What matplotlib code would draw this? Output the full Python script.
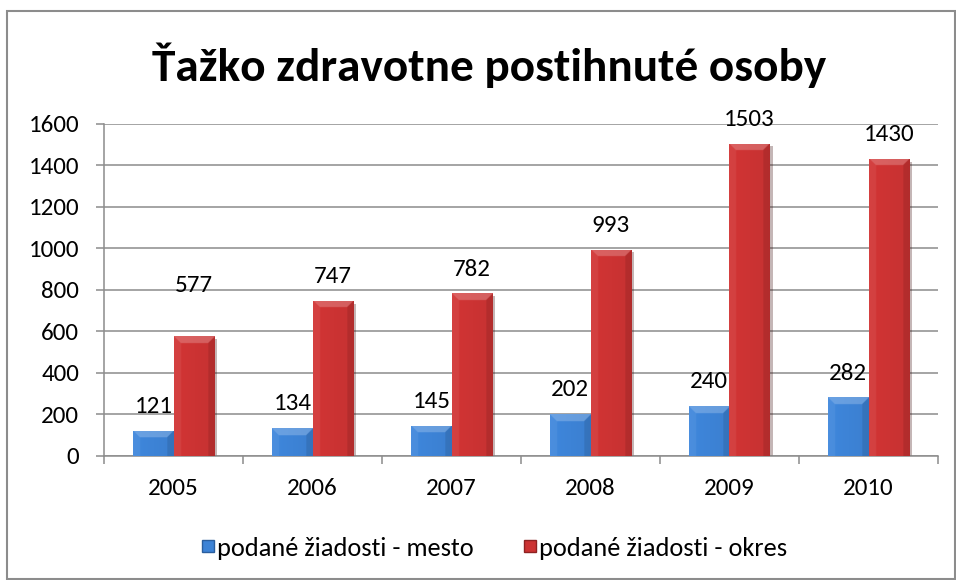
import numpy as np
import matplotlib
matplotlib.use("Agg")
import matplotlib.pyplot as plt
from matplotlib.patches import Rectangle
from matplotlib.lines import Line2D
import matplotlib.patheffects as pe
from matplotlib.colors import to_rgb

plt.rcParams['font.family'] = ['Carlito', 'Lato', 'DejaVu Sans']

years = ['2005', '2006', '2007', '2008', '2009', '2010']
mesto = [121, 134, 145, 202, 240, 282]
okres = [577, 747, 782, 993, 1503, 1430]
series_names = ['podané žiadosti - mesto', 'podané žiadosti - okres']
title = 'Ťažko zdravotne postihnuté osoby'

blue = '#3D83D6'
red = '#CC3333'
grid_c = '#8C8C8C'

W, H = 956, 580
fig = plt.figure(figsize=(W / 100, H / 100), dpi=100)
fig.patch.set_facecolor('white')
fig.add_artist(Rectangle((7 / W, 1 / H), (955 - 7) / W, (H - 11 - 1) / H,
                         transform=fig.transFigure, fill=False,
                         edgecolor='#8C8C8C', lw=1.5))

ax = fig.add_axes([104 / W, (H - 456) / H, (938 - 104) / W, (456 - 123.5) / H])
ax.set_xlim(-0.5, len(years) - 0.5)
ax.set_ylim(0, 1600)
ax.set_yticks(np.arange(0, 1601, 200))
ax.yaxis.grid(True, color=grid_c, lw=1.1)
ax.set_axisbelow(True)
for s in ['top', 'right']:
    ax.spines[s].set_visible(False)
for s in ['left', 'bottom']:
    ax.spines[s].set_color(grid_c)
    ax.spines[s].set_linewidth(1.1)

x = np.arange(len(years))
ax.set_xticks(x)
ax.set_xticklabels(years)
ax.set_xticks(np.arange(-0.5, len(years)), minor=True)
ax.tick_params(axis='x', which='major', length=0, pad=16, labelsize=18)
ax.tick_params(axis='x', which='minor', length=6, color=grid_c, width=1.1)
ax.tick_params(axis='y', length=6, color=grid_c, width=1.1, pad=12, labelsize=18)

bw = 0.29
px_per_unit = (456 - 123.5) / 1600.0
axis_w_px = 938 - 104


def shaded_bar(bar, color):
    c = np.array(to_rgb(color))
    x0 = bar.get_x()
    w = bar.get_width()
    h = bar.get_height()
    wpx = w / len(years) * axis_w_px
    nx = int(round(wpx)) * 2
    ny = max(int(h * px_per_unit), 2) * 2
    xs = (np.arange(nx) + 0.5) / 2.0
    ys = (np.arange(ny) + 0.5) / 2.0
    X, Y = np.meshgrid(xs, ys)
    base = np.ones((ny, nx, 3)) * c
    shade = 1.03 - 0.06 * (X / wpx)
    img = base * shade[..., None]
    bev = 7.0
    d_left = X
    d_right = wpx - X
    d_top = Y
    dmin = np.minimum(np.minimum(d_left, d_right), d_top)
    in_bev = dmin < bev
    top = in_bev & (d_top <= d_left) & (d_top <= d_right)
    left = in_bev & (d_left < d_top) & (d_left <= d_right)
    right = in_bev & (d_right < d_top) & (d_right < d_left)
    img[top] = img[top] + (1 - img[top]) * 0.22
    img[left] = img[left] + (1 - img[left]) * 0.06
    img[right] = img[right] * 0.90
    img = np.clip(img, 0, 1)
    im = ax.imshow(img, extent=(x0, x0 + w, 0, h), aspect='auto',
                   origin='upper', zorder=3, interpolation='bilinear')
    im.set_clip_path(bar)


shadow = [pe.SimplePatchShadow(offset=(2, -2), alpha=0.3), pe.Normal()]
bars1 = ax.bar(x - bw / 2, mesto, bw, color=blue, zorder=2, path_effects=shadow)
bars2 = ax.bar(x + bw / 2, okres, bw, color=red, zorder=2, path_effects=shadow)
for b in bars1:
    shaded_bar(b, blue)
for b in bars2:
    shaded_bar(b, red)

extra = {('okres', 0): 19}
for i, v in enumerate(mesto):
    ax.annotate(str(v), (x[i] - bw / 2, v), xytext=(0, 10 + extra.get(('mesto', i), 0)),
                textcoords='offset points', ha='center', va='bottom', fontsize=18, zorder=5)
for i, v in enumerate(okres):
    ax.annotate(str(v), (x[i] + bw / 2, v), xytext=(0, 10 + extra.get(('okres', i), 0)),
                textcoords='offset points', ha='center', va='bottom', fontsize=18, zorder=5)

fig.text(489 / W, (H - 65) / H, title, ha='center', va='center',
         fontsize=34, fontweight='bold')

handles = [Line2D([], [], marker='s', ls='none', markersize=8, markerfacecolor=blue,
                  markeredgecolor='#2A5E9E'),
           Line2D([], [], marker='s', ls='none', markersize=8, markerfacecolor=red,
                  markeredgecolor='#8E2222')]
fig.legend(handles, series_names, loc='center', bbox_to_anchor=(493 / W, (H - 548) / H),
           ncol=2, frameon=False, fontsize=19, handletextpad=0.0, columnspacing=1.8,
           handlelength=0.7)

fig.savefig('out.png', dpi=100, facecolor='white')
